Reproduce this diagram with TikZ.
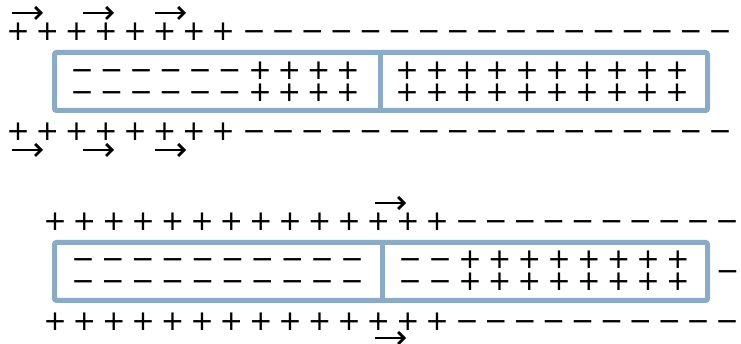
\documentclass[tikz,border=0pt]{standalone}
\usepackage{fontspec}
\setmainfont{DejaVu Sans}
\usetikzlibrary{arrows.meta}
\definecolor{rodblue}{RGB}{138,170,198}
\tikzset{
  ch/.style={inner sep=0pt, outer sep=0pt, font=\fontsize{28}{28}\selectfont,
             anchor=base, yshift=-8.625pt},
  vecarr/.style={line width=2.8pt, -{Straight Barb[length=6pt,width=12pt]}},
  rod/.style={draw=rodblue, line width=5pt, rounded corners=2pt, inner sep=0pt,
              minimum width=653pt, minimum height=58pt},
  divider/.style={draw=rodblue, line width=5pt},
}
\begin{document}
\begin{tikzpicture}[x=1pt,y=-1pt]
\useasboundingbox (0,0) rectangle (741,344);
% ---------- upper picture ----------
\node[rod] (rodA) at (381,81.5) {};
\coordinate (divAt) at (380.5,52.5);
\coordinate (divAb) at (380.5,110.5);
\draw[divider] (divAt) -- (divAb);
% outside rows
\foreach \i in {0,...,7}{
  \node[ch] (atp\i) at ({18+29.3*\i},32) {+};
  \node[ch] (abp\i) at ({18+29.3*\i},131.5) {+};
}
\foreach \j in {0,...,16}{
  \node[ch] (atm\j) at ({254+29.125*\j},32) {−};
  \node[ch] (abm\j) at ({254+29.125*\j},131.5) {−};
}
% inside rows
\foreach \r/\y in {1/70.5,2/92.5}{
  \foreach \i in {0,...,5}{\node[ch] (aim\r\i) at ({82+29.5*\i},\y) {−};}
  \foreach \i in {0,...,3}{\node[ch] (aip\r\i) at ({260+29.3*\i},\y) {+};}
  \foreach \i in {0,...,9}{\node[ch] (aiq\r\i) at ({407+30*\i},\y) {+};}
}
% arrows
\foreach \x in {12,83,155}{
  \draw[vecarr] (\x,13) -- ++(31,0);
  \draw[vecarr] (\x,150) -- ++(31,0);
}
% ---------- lower picture ----------
\node[rod] (rodB) at (381,271.5) {};
\coordinate (divBt) at (382,242.5);
\coordinate (divBb) at (382,300.5);
\draw[divider] (divBt) -- (divBb);
\foreach \i in {0,...,13}{
  \node[ch] (btp\i) at ({55+29.4*\i},222) {+};
  \node[ch] (bbp\i) at ({55+29.4*\i},322) {+};
}
\foreach \j in {0,...,9}{
  \node[ch] (btm\j) at ({467+28.9*\j},222) {−};
  \node[ch] (bbm\j) at ({467+28.9*\j},322) {−};
}
\foreach \r/\y in {1/260,2/282}{
  \foreach \i in {0,...,9}{\node[ch] (bim\r\i) at ({83+29.9*\i},\y) {−};}
  \node[ch] (bin\r0) at (410,\y) {−};
  \node[ch] (bin\r1) at (440,\y) {−};
  \foreach \i in {0,...,7}{\node[ch] (bip\r\i) at ({470+29.7*\i},\y) {+};}
}
\node[ch] (bout) at (727.5,272) {−};
\draw[vecarr] (375,203) -- ++(31,0);
\draw[vecarr] (375,338) -- ++(31,0);
\end{tikzpicture}
\end{document}
